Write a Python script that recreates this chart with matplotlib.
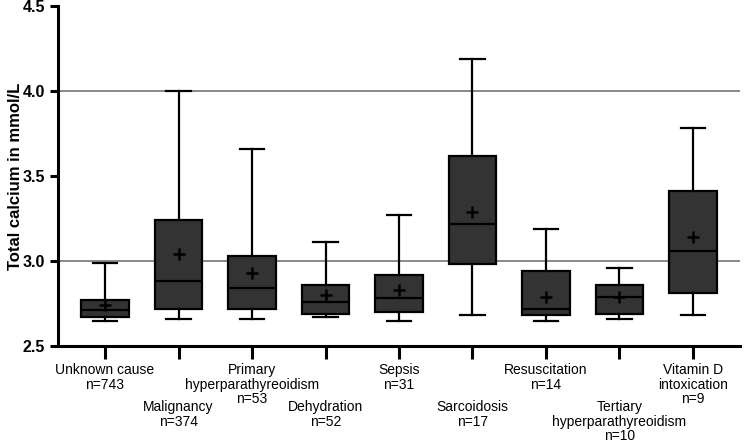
import matplotlib.pyplot as plt
from matplotlib.ticker import FormatStrFormatter

plt.rcParams['font.family'] = ['Liberation Sans', 'DejaVu Sans']

# categories and box statistics
labels = ['Unknown cause\nn=743', 'Malignancy\nn=374', 'Primary\nhyperparathyreoidism\nn=53',
          'Dehydration\nn=52', 'Sepsis\nn=31', 'Sarcoidosis\nn=17', 'Resuscitation\nn=14',
          'Tertiary\nhyperparathyreoidism\nn=10', 'Vitamin D\nintoxication\nn=9']
whisker_low = [2.65, 2.66, 2.66, 2.67, 2.65, 2.68, 2.65, 2.66, 2.68]
q1 = [2.67, 2.72, 2.72, 2.69, 2.70, 2.98, 2.68, 2.69, 2.81]
median = [2.71, 2.88, 2.84, 2.76, 2.78, 3.22, 2.72, 2.79, 3.06]
q3 = [2.77, 3.24, 3.03, 2.86, 2.92, 3.62, 2.94, 2.86, 3.41]
whisker_high = [2.99, 4.00, 3.66, 3.11, 3.27, 4.19, 3.19, 2.96, 3.78]
mean = [2.74, 3.04, 2.93, 2.80, 2.83, 3.29, 2.79, 2.79, 3.14]

stats = []
for i in range(len(labels)):
    stats.append({'whislo': whisker_low[i], 'q1': q1[i], 'med': median[i], 'q3': q3[i],
                  'whishi': whisker_high[i], 'mean': mean[i], 'fliers': []})

fig = plt.figure(figsize=(7.44, 4.45), dpi=100)
ax = fig.add_axes([58 / 744, 1 - 346 / 445, 682 / 744, 340 / 445])

# reference lines at 3.0 and 4.0
for y in [3.0, 4.0]:
    ax.axhline(y, color='#808080', lw=1.3, zorder=0)

ax.bxp(stats, positions=range(len(labels)), widths=0.65, showmeans=True,
       patch_artist=True, capwidths=0.33,
       boxprops=dict(facecolor='#333333', edgecolor='black', linewidth=1.6),
       medianprops=dict(color='black', linewidth=1.6),
       whiskerprops=dict(color='black', linewidth=1.6),
       capprops=dict(color='black', linewidth=1.6),
       meanprops=dict(marker='+', markeredgecolor='black', markersize=8, markeredgewidth=1.8))

ax.set_xlim(-0.64, 8.64)
ax.set_ylim(2.5, 4.5)
ax.set_yticks([2.5, 3.0, 3.5, 4.0, 4.5])
ax.yaxis.set_major_formatter(FormatStrFormatter('%.1f'))
ax.set_xticks(range(len(labels)))
ax.set_xticklabels(labels, fontsize=10, linespacing=1.05)
# stagger every second label downwards
for i, t in enumerate(ax.xaxis.get_major_ticks()):
    if i % 2 == 1:
        t.set_pad(30)

for lab in ax.get_yticklabels():
    lab.set_fontweight('bold')
    lab.set_fontsize(11.5)
ax.set_ylabel('Total calcium in mmol/L', fontsize=12, fontweight='bold')
ax.yaxis.set_label_coords(-0.052, 0.5)

ax.spines['top'].set_visible(False)
ax.spines['right'].set_visible(False)
for s in ['left', 'bottom']:
    ax.spines[s].set_linewidth(2.2)
ax.tick_params(axis='x', length=9, width=2.2)
ax.tick_params(axis='y', length=6, width=2.2)

fig.savefig('out.png', dpi=100)
